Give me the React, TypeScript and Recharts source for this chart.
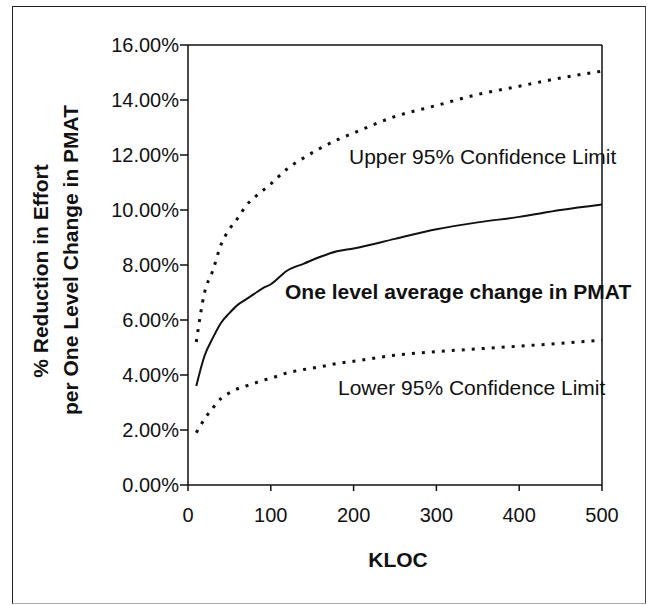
import React from 'react';
import { LineChart, Line, XAxis, YAxis, ReferenceLine } from 'recharts';

// KLOC sample points along the curves
const kloc = [10, 20, 30, 40, 50, 60, 70, 80, 90, 100, 120, 140, 160, 180, 200, 250, 300, 350, 400, 450, 500];

// % reduction in effort
const average = [3.6, 4.7, 5.35, 5.9, 6.25, 6.55, 6.75, 6.95, 7.15, 7.3, 7.8, 8.05, 8.3, 8.5, 8.6, 8.95, 9.3, 9.55, 9.75, 10.0, 10.2];
const upper = [5.2, 7.0, 7.8, 8.75, 9.3, 9.7, 10.15, 10.45, 10.7, 10.95, 11.5, 11.9, 12.25, 12.55, 12.8, 13.4, 13.8, 14.2, 14.5, 14.8, 15.05];
const lower = [1.9, 2.4, 2.8, 3.15, 3.35, 3.5, 3.6, 3.7, 3.8, 3.88, 4.08, 4.2, 4.3, 4.42, 4.5, 4.72, 4.85, 4.95, 5.05, 5.15, 5.27];

const yTicks = [0, 2, 4, 6, 8, 10, 12, 14, 16];
const xTicks = [0, 100, 200, 300, 400, 500];

const FONT = '"Liberation Sans", Arial, sans-serif';

const data = kloc.map((k, i) => ({ kloc: k, average: average[i], upper: upper[i], lower: lower[i] }));

const App: React.FC = () => {
  return (
    <div style={{ position: 'absolute', left: 0, top: 0, width: 652, height: 605, background: '#fff', fontFamily: FONT }}>
      {/* outer frame */}
      <div
        style={{
          position: 'absolute',
          left: 12,
          top: 6,
          width: 632,
          height: 596,
          borderLeft: '1.5px solid #222',
          borderTop: '1.5px solid #222',
          borderRight: '1.5px solid #444',
          borderBottom: '1.5px solid #aaa',
        }}
      />
      <LineChart width={652} height={605} data={data} margin={{ top: 45, right: 50, bottom: 90, left: 0 }}>
        <XAxis
          dataKey="kloc"
          type="number"
          domain={[0, 500]}
          ticks={xTicks}
          height={30}
          tickSize={6}
          tickMargin={17}
          stroke="#111"
          strokeWidth={1.5}
          tick={{ fill: '#111', fontSize: 20, fontFamily: FONT }}
        />
        <YAxis
          type="number"
          domain={[0, 16]}
          ticks={yTicks}
          width={188}
          tickSize={8}
          tickMargin={1}
          stroke="#111"
          strokeWidth={1.5}
          tickFormatter={(v: number) => `${v.toFixed(2)}%`}
          tick={{ fill: '#111', fontSize: 20, fontFamily: FONT }}
        />
        <ReferenceLine y={16} stroke="#111" strokeWidth={1.5} />
        <ReferenceLine x={500} stroke="#111" strokeWidth={1.5} />
        <Line
          type="monotone"
          dataKey="upper"
          stroke="#111"
          strokeWidth={3}
          strokeDasharray="3 7"
          dot={false}
          isAnimationActive={false}
        />
        <Line type="monotone" dataKey="average" stroke="#111" strokeWidth={2} dot={false} isAnimationActive={false} />
        <Line
          type="monotone"
          dataKey="lower"
          stroke="#111"
          strokeWidth={3}
          strokeDasharray="3 7"
          dot={false}
          isAnimationActive={false}
        />
      </LineChart>
      <svg
        width={652}
        height={605}
        style={{ position: 'absolute', left: 0, top: 0, pointerEvents: 'none' }}
        fontFamily={FONT}
        fill="#111"
      >
        <text x={349} y={164} fontSize={21}>Upper 95% Confidence Limit</text>
        <text x={285} y={299} fontSize={21} fontWeight="bold">One level average change in PMAT</text>
        <text x={338} y={395} fontSize={21}>Lower 95% Confidence Limit</text>
        <text x={398} y={567} fontSize={21} fontWeight="bold" textAnchor="middle">KLOC</text>
        <text transform="translate(48,271) rotate(-90)" fontSize={21} fontWeight="bold" textAnchor="middle">
          % Reduction in Effort
        </text>
        <text transform="translate(78,260) rotate(-90)" fontSize={21} fontWeight="bold" textAnchor="middle">
          per One Level Change in PMAT
        </text>
      </svg>
    </div>
  );
};

export default App;
